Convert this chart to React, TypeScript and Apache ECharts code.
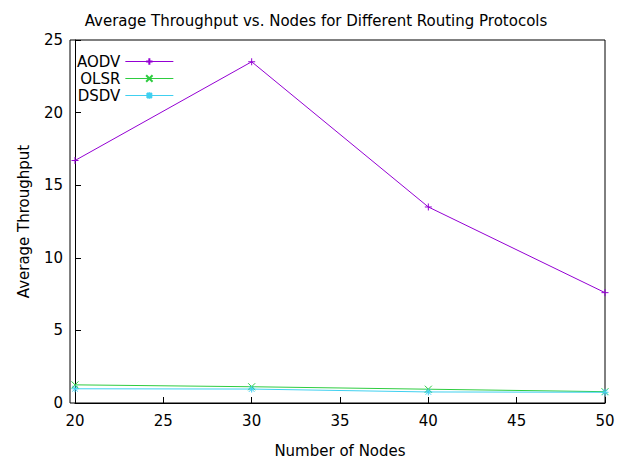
import { useEffect, useRef } from 'react';
import * as echarts from 'echarts';

const nodes = [20, 30, 40, 50];
const aodv = [16.7, 23.5, 13.5, 7.6];
const olsr = [1.25, 1.12, 0.95, 0.78];
const dsdv = [0.98, 0.96, 0.76, 0.74];

const PLUS = 'path://M5 0L5 10M0 5L10 5';
const CROSS = 'path://M0 0L10 10M10 0L0 10';
const STAR = 'path://M5 0L5 10M0 5L10 5M1 1L9 9M9 1L1 9';

const mk = (name: string, data: number[], color: string, symbol: string) => ({
  name,
  type: 'line',
  data: nodes.map((n, i) => [n, data[i]]),
  symbol,
  symbolSize: 7,
  lineStyle: { color, width: 1 },
  itemStyle: { color: 'none', borderColor: color, borderWidth: 1 },
});

export default function App() {
  const ref = useRef<HTMLDivElement>(null);
  useEffect(() => {
    if (!ref.current) return;
    const chart = echarts.init(ref.current, null, { renderer: 'svg' });
    const font = { fontFamily: 'DejaVu Sans', color: '#000' };
    chart.setOption({
      animation: false,
      textStyle: font,
      title: {
        text: 'Average Throughput vs. Nodes for Different Routing Protocols',
        left: 'center',
        top: 0,
        textStyle: { ...font, fontSize: 15, fontWeight: 'normal' },
      },
      legend: {
        left: 64,
        top: 41,
        orient: 'vertical',
        align: 'right',
        itemGap: 2,
        itemWidth: 48,
        itemHeight: 8,
        lineStyle: { width: 1 },
        textStyle: { ...font, fontSize: 15 },
        data: ['AODV', 'OLSR', 'DSDV'],
      },
      grid: { left: 62, right: 19, top: 32, bottom: 60 },
      xAxis: {
        type: 'value',
        min: 20,
        max: 50,
        interval: 5,
        name: 'Number of Nodes',
        nameLocation: 'middle',
        nameGap: 40,
        nameTextStyle: { ...font, fontSize: 15 },
        axisLine: { lineStyle: { color: '#000' } },
        axisTick: { inside: true, length: 6, lineStyle: { color: '#000' } },
        axisLabel: { ...font, fontSize: 15, margin: 10 },
        splitLine: { show: false },
      },
      yAxis: {
        type: 'value',
        min: 0,
        max: 25,
        interval: 5,
        name: 'Average Throughput',
        nameLocation: 'middle',
        nameGap: 44,
        nameTextStyle: { ...font, fontSize: 15 },
        axisLine: { show: true, lineStyle: { color: '#000' } },
        axisTick: { show: true, inside: true, length: 6, lineStyle: { color: '#000' } },
        axisLabel: { ...font, fontSize: 15, margin: 12 },
        splitLine: { show: false },
      },
      graphic: [
        {
          type: 'rect',
          shape: { x: 62, y: 32, width: 535, height: 363 },
          style: { fill: 'none', stroke: '#000', lineWidth: 1 },
          silent: true,
        },
      ],
      series: [
        mk('AODV', aodv, '#9400d3', PLUS),
        mk('OLSR', olsr, '#2ecc40', CROSS),
        mk('DSDV', dsdv, '#40d0f0', STAR),
      ],
    });
    return () => chart.dispose();
  }, []);
  return <div ref={ref} style={{ width: 616, height: 455 }} />;
}
